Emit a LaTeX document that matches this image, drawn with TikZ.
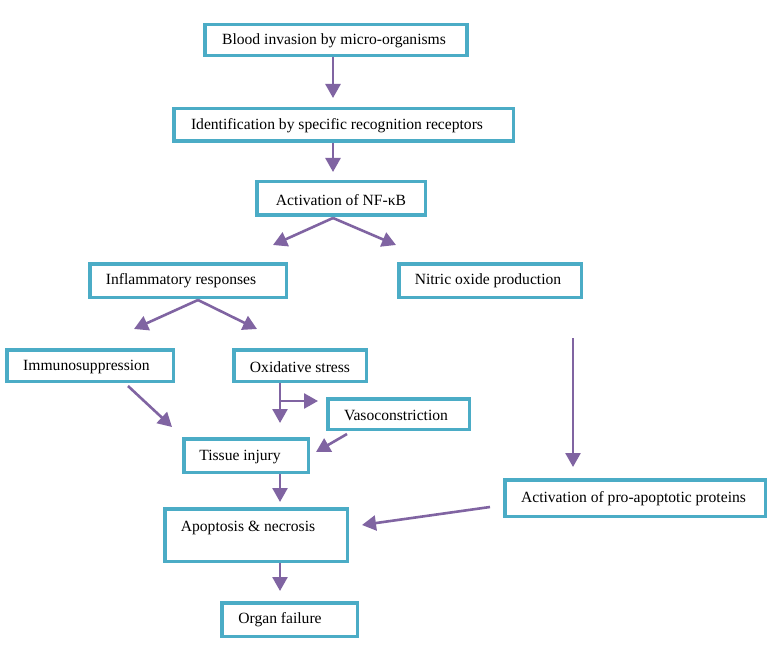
\documentclass[tikz,border=0pt]{standalone}
\usepackage{fontspec}
\setmainfont{Liberation Serif}
\usetikzlibrary{arrows.meta}
\definecolor{teal}{RGB}{75,172,198}
\definecolor{purp}{RGB}{128,100,162}
\tikzset{
  bx/.style={draw=teal, line width=3.5pt, fill=white, inner sep=0pt, minimum width=#1},
  txt/.style={inner sep=0pt, font=\fontsize{15.6}{18}\selectfont},
  arr/.style={draw=purp, line width=2.6pt, -{Triangle[width=15pt,length=14pt]}},
}
\begin{document}
\begin{tikzpicture}[x=1pt,y=-1pt]
\useasboundingbox[fill=white] (0,0) rectangle (771,655);
% boxes
\node[bx=262pt, minimum height=31pt] (b1) at (336,40) {};
\node[bx=339.5pt, minimum height=32.5pt] (b2) at (343.5,125) {};
\node[bx=168.5pt, minimum height=33.5pt] (b3) at (341,198.5) {};
\node[bx=196.5pt, minimum height=33.5pt] (b4) at (188,280.5) {};
\node[bx=182.5pt, minimum height=33.5pt] (b5) at (490,280.5) {};
\node[bx=166.5pt, minimum height=31.5pt] (b6) at (90,365.5) {};
\node[bx=132.5pt, minimum height=31.5pt] (b7) at (300,365.5) {};
\node[bx=141.5pt, minimum height=30.5pt] (b8) at (398.5,414) {};
\node[bx=124.5pt, minimum height=33.5pt] (b9) at (246,455.5) {};
\node[bx=182.5pt, minimum height=52.5pt] (b10) at (256,535) {};
\node[bx=135.5pt, minimum height=33.5pt] (b11) at (289.5,619.5) {};
\node[bx=260.5pt, minimum height=36.5pt] (b12) at (635,498) {};
% texts
\node[txt] (t1) at (334,41) {Blood invasion by micro-organisms};
\node[txt] (t2) at (337,126) {Identification by specific recognition receptors};
\node[txt] (t3) at (341,200) {Activation of NF-κB};
\node[txt] (t4) at (181,281) {Inflammatory responses};
\node[txt] (t5) at (488,281) {Nitric oxide production};
\node[txt] (t6) at (86.5,367) {Immunosuppression};
\node[txt] (t7) at (300,367) {Oxidative stress};
\node[txt] (t8) at (396,415) {Vasoconstriction};
\node[txt] (t9) at (240,457) {Tissue injury};
\node[txt] (t10) at (248,528) {Apoptosis \& necrosis};
\node[txt] (t11) at (280,620) {Organ failure};
\node[txt] (t12) at (633.5,499) {Activation of pro-apoptotic proteins};
% arrow end points
\coordinate (p1) at (333,98);
\coordinate (p2) at (333,172);
\coordinate (p3) at (273,245);
\coordinate (p4) at (396,245);
\coordinate (p5) at (134,329);
\coordinate (p6) at (257,329);
\coordinate (p7) at (172,427);
\coordinate (p8) at (280,423);
\coordinate (p9) at (280,401);
\coordinate (p10) at (318,401);
\coordinate (p11) at (316,452);
\coordinate (p12) at (280,502);
\coordinate (p13) at (280,591);
\coordinate (q12) at (573,338);
\coordinate (p14) at (573,467);
\coordinate (q13) at (490,507);
\coordinate (p15) at (362,525);
% arrows
\draw[arr] (p1 |- b1.south) -- (p1);
\draw[arr] (p2 |- b2.south) -- (p2);
\draw[arr] ([xshift=-8pt,yshift=-1pt]b3.south) -- (p3);
\draw[arr] ([xshift=-8pt,yshift=-1pt]b3.south) -- (p4);
\draw[arr] ([xshift=10pt,yshift=-1pt]b4.south) -- (p5);
\draw[arr] ([xshift=10pt,yshift=-1pt]b4.south) -- (p6);
\draw[arr] ([xshift=38pt,yshift=-3pt]b6.south) -- (p7);
\draw[arr] (p8 |- b7.south) -- (p8);
\draw[arr] (p9) -- (p10);
\draw[arr] ([xshift=-51.5pt,yshift=-3pt]b8.south) -- (p11);
\draw[arr] (p12 |- b9.south) -- (p12);
\draw[arr] (p13 |- b10.south) -- (p13);
\draw[arr] (q12) -- (p14);
\draw[arr] (q13) -- (p15);
\end{tikzpicture}
\end{document}
